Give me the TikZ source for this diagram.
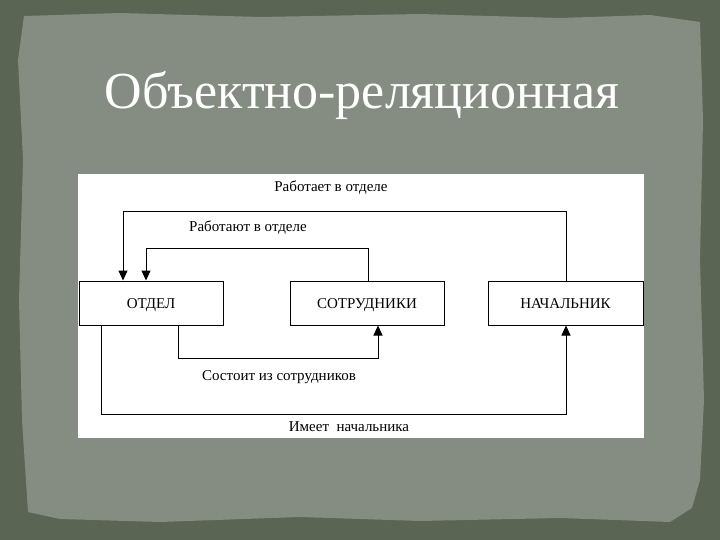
\documentclass[tikz,border=0pt]{standalone}
\usepackage{fontspec}
\setmainfont{Liberation Serif}
\usetikzlibrary{arrows.meta}
\definecolor{borderdark}{RGB}{90,101,84}
\definecolor{paperbg}{RGB}{133,140,129}

\tikzset{
  entity/.style={draw, line width=1pt, fill=white, minimum height=44pt, inner sep=0pt,
    text height=10pt, text depth=0pt, font=\fontsize{15}{17}\selectfont},
  link/.style={line width=1pt, -{Triangle[length=10pt,width=9pt]}},
  linklabel/.style={font=\fontsize{15}{17}\selectfont, inner sep=1pt}
}

\begin{document}
\begin{tikzpicture}[x=1pt, y=-1pt]

    % page size
    \useasboundingbox (0,0) rectangle (720,540);

    % background
    \fill[borderdark] (0,0) rectangle (720,540);
    \fill[paperbg] (24,16) -- (120,13) -- (260,17) -- (420,14) -- (560,18) -- (650,15) -- (700,22)
        -- (703,120) -- (700,260) -- (704,400) -- (700,480) -- (692,508) -- (670,522)
        -- (560,518) -- (420,521) -- (300,517) -- (160,522) -- (60,519) -- (28,512)
        -- (22,420) -- (19,300) -- (23,160) -- (18,60) -- cycle;

    % title
    \node[text=white, font=\fontsize{52}{58}\selectfont] (title) at (362,95) {Объектно-реляционная};

    % diagram panel
    \fill[white] (78,174) rectangle (644,438);

    % entities
    \node[entity, minimum width=144pt] (otdel) at (151,303) {ОТДЕЛ};
    \node[entity, minimum width=154pt] (sotr) at (367,303) {СОТРУДНИКИ};
    \node[entity, minimum width=155pt] (nach) at (565.5,303) {НАЧАЛЬНИК};

    % bends of the connectors
    \coordinate (worksA) at (566,212);
    \coordinate (worksB) at (123,212);
    \coordinate (staffA) at (368,248);
    \coordinate (staffB) at (146,248);
    \coordinate (consA) at (178,358);
    \coordinate (consB) at (378,358);
    \coordinate (headA) at (101,414);
    \coordinate (headB) at (566,414);

    % connectors
    \draw[link] (nach.north -| worksA) -- (worksA) -- (worksB) -- (otdel.north -| worksB);
    \draw[link] (sotr.north -| staffA) -- (staffA) -- (staffB) -- (otdel.north -| staffB);
    \draw[link] (otdel.south -| consA) -- (consA) -- (consB) -- (sotr.south -| consB);
    \draw[link] (otdel.south -| headA) -- (headA) -- (headB) -- (nach.south -| headB);

    % labels
    \node[linklabel] (worksL) at (331,188) {Работает в отделе};
    \node[linklabel] (staffL) at (248,228) {Работают в отделе};
    \node[linklabel] (consL) at (279,377) {Состоит из сотрудников};
    \node[linklabel] (headL) at (349,427) {Имеет\ \ начальника};

\end{tikzpicture}
\end{document}
